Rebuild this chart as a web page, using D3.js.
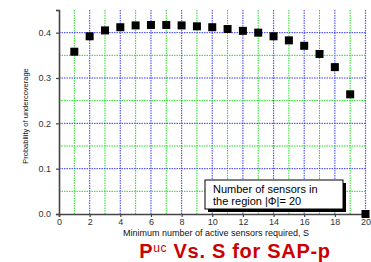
<!DOCTYPE html>
<html>
<head>
<meta charset="utf-8">
<script src="https://cdn.jsdelivr.net/npm/d3@7"></script>
<style>
  html, body { margin: 0; padding: 0; background: #fff; }
  svg { display: block; }
</style>
</head>
<body>
<div id="chart"></div>
<script>
var sValues = [1, 2, 3, 4, 5, 6, 7, 8, 9, 10, 11, 12, 13, 14, 15, 16, 17, 18, 19, 20];
var pucValues = [0.358, 0.392, 0.405, 0.412, 0.416, 0.417, 0.417, 0.416, 0.414, 0.412,
                 0.408, 0.404, 0.400, 0.392, 0.383, 0.371, 0.353, 0.324, 0.264, 0.0];
var xTicks = [0, 2, 4, 6, 8, 10, 12, 14, 16, 18, 20];
var yTicks = [0.0, 0.1, 0.2, 0.3, 0.4];
var xGridMinor = [1, 3, 5, 7, 9, 11, 13, 15, 17, 19];
var yGridMinor = [0.05, 0.15, 0.25, 0.35];
var legendLines = ['Number of sensors in', 'the region |\u03A6|= 20'];

var W = 371, H = 262;
var svg = d3.select('#chart').append('svg')
  .attr('width', W).attr('height', H)
  .style('font-family', 'Arial, "Liberation Sans", sans-serif');

var x = d3.scaleLinear().domain([0, 20]).range([59, 365.5]);
var y = d3.scaleLinear().domain([0, 0.45]).range([214, 10]);

var grid = svg.append('g');

// vertical grid: blue at even, green at odd
grid.selectAll('line.vb')
  .data(xTicks.slice(1))
  .join('line')
  .attr('x1', function (d) { return x(d); }).attr('x2', function (d) { return x(d); })
  .attr('y1', y(0.45)).attr('y2', y(0))
  .attr('stroke', '#5a5aff').attr('stroke-width', 1.2)
  .attr('stroke-dasharray', '1.5,1');
grid.selectAll('line.vg')
  .data(xGridMinor)
  .join('line')
  .attr('x1', function (d) { return x(d); }).attr('x2', function (d) { return x(d); })
  .attr('y1', y(0.45)).attr('y2', y(0))
  .attr('stroke', '#22dd22').attr('stroke-width', 1)
  .attr('stroke-dasharray', '1.5,1');

// horizontal grid
svg.append('g').selectAll('line')
  .data(yTicks.slice(1))
  .join('line')
  .attr('x1', x(0)).attr('x2', x(20))
  .attr('y1', function (d) { return y(d); }).attr('y2', function (d) { return y(d); })
  .attr('stroke', '#3a3aff').attr('stroke-width', 1)
  .attr('stroke-dasharray', '1.5,1');
svg.append('g').selectAll('line')
  .data(yGridMinor)
  .join('line')
  .attr('x1', x(0)).attr('x2', x(20))
  .attr('y1', function (d) { return y(d); }).attr('y2', function (d) { return y(d); })
  .attr('stroke', '#22dd22').attr('stroke-width', 1)
  .attr('stroke-dasharray', '1.5,1');

// axes
var xAxis = svg.append('g')
  .attr('transform', 'translate(0,' + y(0) + ')')
  .call(d3.axisBottom(x).tickValues(xTicks).tickSize(3).tickPadding(2)
    .tickFormat(d3.format('d')));
var yAxis = svg.append('g')
  .attr('transform', 'translate(' + x(0) + ',0)')
  .call(d3.axisLeft(y).tickValues(yTicks.concat([0.45])).tickSize(3).tickPadding(5)
    .tickFormat(function (d) { return d === 0.45 ? '' : d3.format('.1f')(d); }));

[xAxis, yAxis].forEach(function (a) {
  a.select('.domain').attr('stroke', '#444').attr('stroke-width', 1.6);
  a.selectAll('.tick line').attr('stroke', '#444').attr('stroke-width', 1.2);
  a.selectAll('.tick text').attr('fill', '#333').style('font-size', '9px');
});

// markers
svg.append('g').selectAll('rect')
  .data(sValues)
  .join('rect')
  .attr('x', function (d) { return x(d) - 4; })
  .attr('y', function (d, i) { return y(pucValues[i]) - 4; })
  .attr('width', 8).attr('height', 8)
  .attr('fill', '#000');

// legend box with shadow
var lg = svg.append('g').attr('transform', 'translate(205,180)');
lg.append('rect').attr('x', 3).attr('y', 3).attr('width', 138).attr('height', 29).attr('fill', '#000');
lg.append('rect').attr('x', 0).attr('y', 0).attr('width', 138).attr('height', 29)
  .attr('fill', '#fff').attr('stroke', '#000').attr('stroke-width', 1);
lg.selectAll('text')
  .data(legendLines)
  .join('text')
  .attr('x', 8)
  .attr('y', function (d, i) { return 12.5 + i * 12; })
  .style('font-size', '11px')
  .attr('fill', '#000')
  .text(function (d) { return d; });

// axis titles
svg.append('text')
  .attr('x', 216).attr('y', 236)
  .attr('text-anchor', 'middle')
  .style('font-size', '9px')
  .attr('fill', '#111')
  .text('Minimum number of active sensors required, S');

svg.append('text')
  .attr('transform', 'translate(28,116) rotate(-90)')
  .attr('text-anchor', 'middle')
  .style('font-size', '7.5px')
  .attr('fill', '#111')
  .text('Probability of undercoverage');

// title
var t = svg.append('text')
  .attr('x', 235).attr('y', 258)
  .attr('text-anchor', 'middle')
  .attr('fill', '#cc0000')
  .style('font-weight', 'bold')
  .style('font-size', '20px')
  .style('letter-spacing', '0.7px');
t.append('tspan').text('P');
t.append('tspan').attr('dy', -6).style('font-size', '12px').style('font-weight', 'normal').text('uc');
t.append('tspan').attr('dy', 6).text(' Vs. S for SAP-p');
</script>
</body>
</html>
